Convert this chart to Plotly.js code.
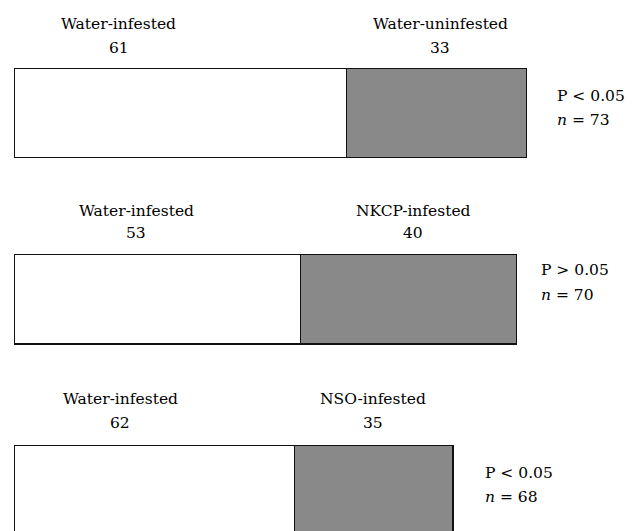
<!DOCTYPE html>
<html>
<head>
<meta charset="utf-8">
<script src="https://cdn.plot.ly/plotly-3.0.1.min.js"></script>
<style>html,body{margin:0;padding:0;background:#fff;}#chart{width:636px;height:531px;}</style>
</head>
<body>
<div id="chart"></div>
<script>
// ---- data ----
const leftLabels = ['Water-infested', 'Water-infested', 'Water-infested'];
const rightLabels = ['Water-uninfested', 'NKCP-infested', 'NSO-infested'];
const leftValues = [61, 53, 62];
const rightValues = [33, 40, 35];
const pLabels = ['P < 0.05', 'P > 0.05', 'P < 0.05'];
const nValues = [73, 70, 68];

// ---- layout geometry (pixels) ----
const W = 636, H = 531;
const barLeftPx = 14.3;
const pxPerUnit = [5.447, 5.402, 4.523];
const barTopPx = [68.3, 254.3, 445.7];
const barHeightPx = [89.4, 89.7, 89.5];
const domTopPx = [60, 246, 437];
const domBotPx = [166, 352, 531];
const leftLabelX = [119, 136, 120];
const rightLabelX = [440, 413, 373];
const labelLine1Y = [24, 210.5, 399];
const labelLine2Y = [48.5, 233, 423];
const pX = [555, 539, 483];
const pY = [96, 270, 472.5];
const nY = [120, 295, 496.5];

const fontFam = 'DejaVu Serif';
const fs = 15.5;

const traces = [];
const layout = {
  width: W, height: H,
  margin: {l: 0, r: 0, t: 0, b: 0},
  font: {family: fontFam, size: fs, color: '#000'},
  paper_bgcolor: '#fff', plot_bgcolor: 'rgba(0,0,0,0)',
  barmode: 'stack', bargap: 0,
  showlegend: false,
  annotations: []
};

for (let i = 0; i < 3; i++) {
  const xa = i === 0 ? 'x' : 'x' + (i + 1);
  const ya = i === 0 ? 'y' : 'y' + (i + 1);
  const common = {type: 'bar', orientation: 'h', y: [0], width: [1], xaxis: xa, yaxis: ya,
    hoverinfo: 'skip'};
  traces.push(Object.assign({}, common, {x: [leftValues[i]], name: leftLabels[i],
    marker: {color: '#ffffff', line: {color: '#111', width: 1.5}}}));
  traces.push(Object.assign({}, common, {x: [rightValues[i]], name: rightLabels[i],
    marker: {color: '#898989', line: {color: '#111', width: 1.5}}}));

  const k = pxPerUnit[i];
  const xRange = [-barLeftPx / k, (W - barLeftPx) / k];
  const c = barTopPx[i] + barHeightPx[i] / 2;
  const hgt = barHeightPx[i];
  const yRange = [(c - domBotPx[i]) / hgt, (c - domTopPx[i]) / hgt];
  const axX = {domain: [0, 1], range: xRange, visible: false, fixedrange: true, anchor: ya};
  const axY = {domain: [1 - domBotPx[i] / H, 1 - domTopPx[i] / H], range: yRange,
    visible: false, fixedrange: true, anchor: xa};
  layout[i === 0 ? 'xaxis' : 'xaxis' + (i + 1)] = axX;
  layout[i === 0 ? 'yaxis' : 'yaxis' + (i + 1)] = axY;

  const ann = (text, px, py, xanchor) => ({
    text: text, xref: 'paper', yref: 'paper', x: px / W, y: 1 - py / H,
    xanchor: xanchor, yanchor: 'middle', showarrow: false,
    font: {family: fontFam, size: fs, color: '#000'}
  });
  layout.annotations.push(ann(leftLabels[i], leftLabelX[i], labelLine1Y[i], 'center'));
  layout.annotations.push(ann(String(leftValues[i]), leftLabelX[i], labelLine2Y[i], 'center'));
  layout.annotations.push(ann(rightLabels[i], rightLabelX[i], labelLine1Y[i], 'center'));
  layout.annotations.push(ann(String(rightValues[i]), rightLabelX[i], labelLine2Y[i], 'center'));
  layout.annotations.push(ann(pLabels[i], pX[i], pY[i], 'left'));
  layout.annotations.push(ann('<i>n</i> = ' + nValues[i], pX[i], nY[i], 'left'));
}

Plotly.newPlot('chart', traces, layout, {displayModeBar: false, staticPlot: true});
</script>
</body>
</html>
